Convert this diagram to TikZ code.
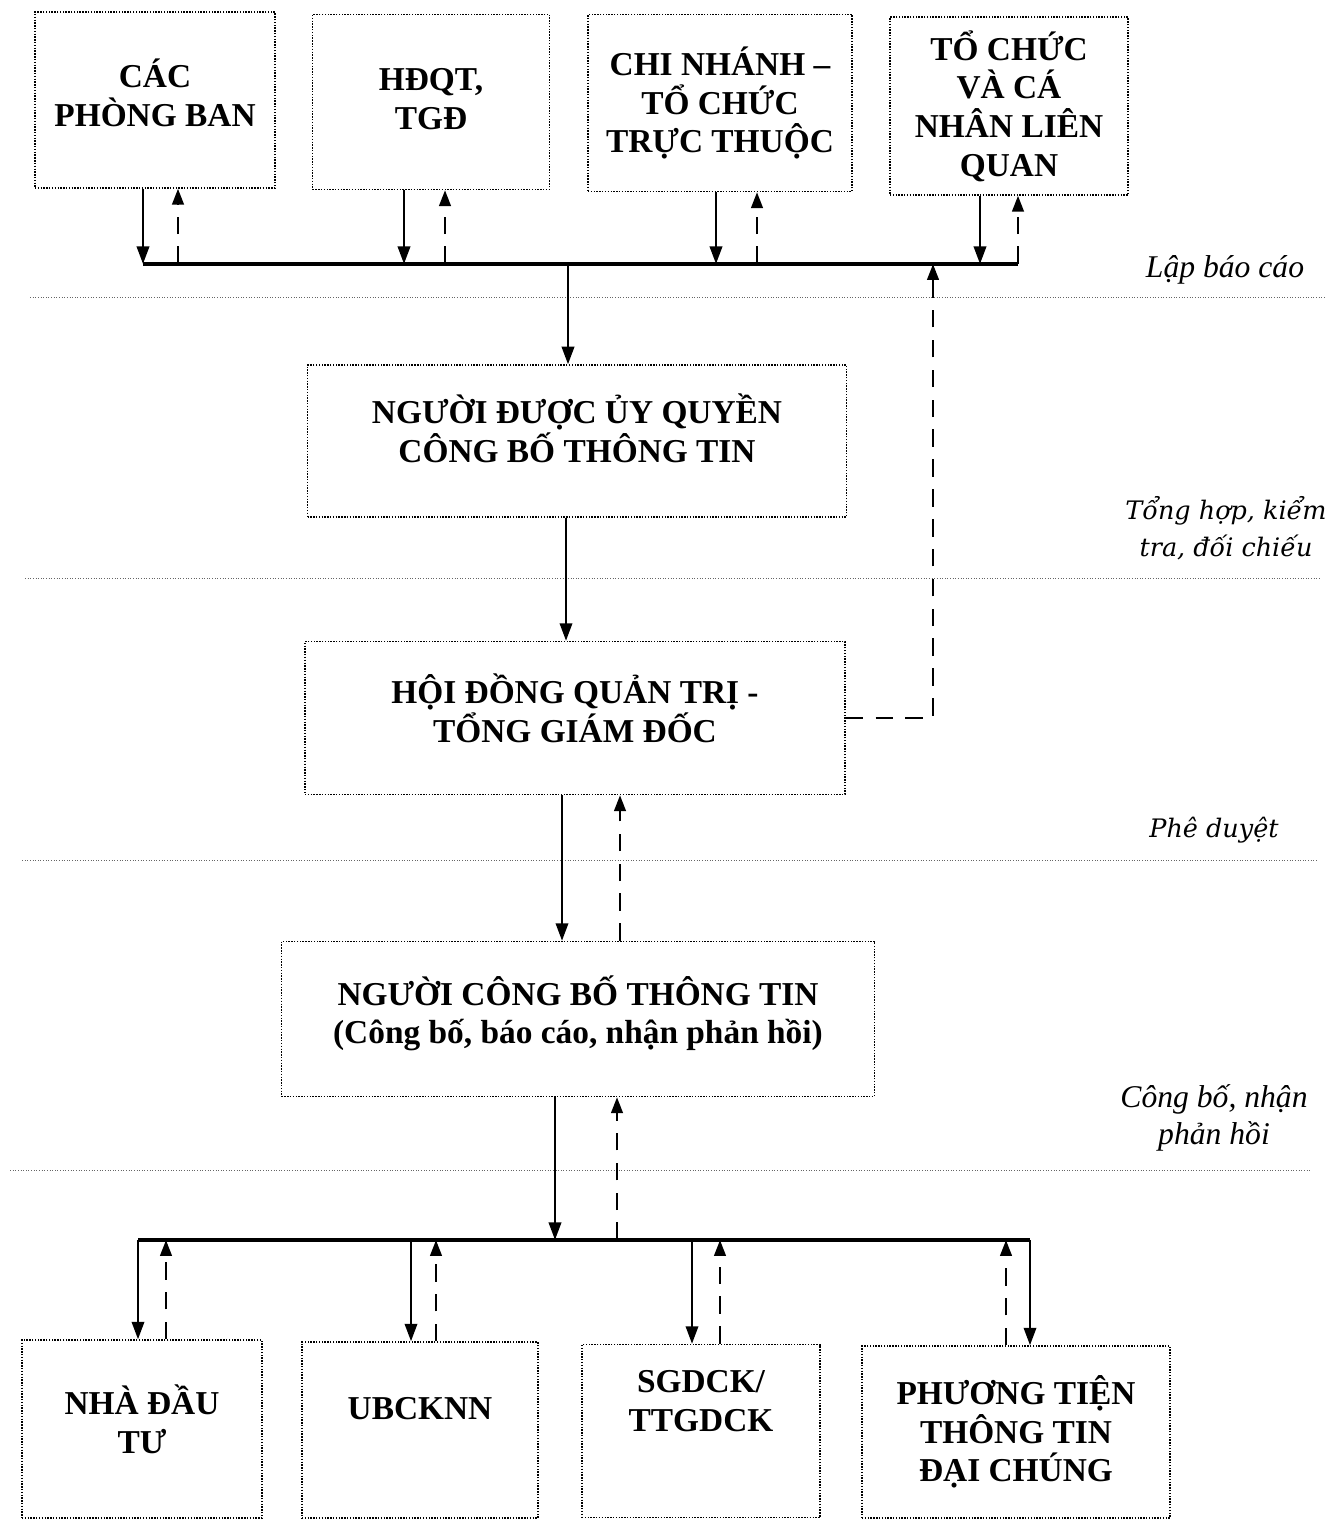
\documentclass[tikz,border=0pt]{standalone}
\usepackage{fontspec}
\setmainfont{Liberation Serif}
\newfontfamily\widefont{DejaVu Serif}
\usetikzlibrary{arrows.meta}

\begin{document}
\begin{tikzpicture}[x=0.02cm, y=-0.02cm,
  box/.style={draw, dash pattern=on 0.8pt off 0.8pt, line width=0.8pt, align=center,
    font=\fontsize{19}{22}\selectfont\bfseries, inner sep=0pt},
  sarrow/.style={-{Triangle[length=10pt,width=7pt]}, line width=1.5pt},
  darrow/.style={-{Triangle[length=9pt,width=6.5pt]}, line width=1.5pt,
    dash pattern=on 10pt off 7pt},
  bus/.style={line width=2.2pt},
  sep/.style={densely dotted, line width=0.5pt, black!60},
  stage/.style={align=center, font=\fontsize{18}{21}\selectfont\itshape},
  stagew/.style={align=center, font=\widefont\fontsize{14.5}{21}\selectfont\itshape}]
  \useasboundingbox (0,0) rectangle (1344,1521);

  % source boxes
  \node[box, minimum width=4.8cm, minimum height=3.52cm, text depth=0.28cm] (pb) at (155,100) {CÁC\\PHÒNG BAN};
  \node[box, minimum width=4.74cm, minimum height=3.5cm, text depth=0.12cm] (hd) at (431,102) {HĐQT,\\TGĐ};
  \node[box, minimum width=5.28cm, minimum height=3.54cm] (cn) at (720,103) {CHI NHÁNH –\\TỔ CHỨC\\TRỰC THUỘC};
  \node[box, minimum width=4.76cm, minimum height=3.56cm] (tc) at (1009,106) {TỔ CHỨC\\VÀ CÁ\\NHÂN LIÊN\\QUAN};

  % middle boxes
  \node[box, minimum width=10.78cm, minimum height=3.04cm, text depth=0.52cm] (uq) at (577,441) {NGƯỜI ĐƯỢC ỦY QUYỀN\\CÔNG BỐ THÔNG TIN};
  \node[box, minimum width=10.8cm, minimum height=3.06cm, text depth=0.4cm] (hdqt) at (575,718) {HỘI ĐỒNG QUẢN TRỊ -\\TỔNG GIÁM ĐỐC};
  \node[box, minimum width=11.86cm, minimum height=3.1cm, text depth=0.37cm] (cb) at (578,1019) {NGƯỜI CÔNG BỐ THÔNG TIN\\(Công bố, báo cáo, nhận phản hồi)};

  % receiver boxes
  \node[box, minimum width=4.8cm, minimum height=3.56cm, text depth=0.4cm] (ndt) at (142,1429) {NHÀ ĐẦU\\TƯ};
  \node[box, minimum width=4.72cm, minimum height=3.52cm, text depth=0.88cm] (ub) at (420,1430) {UBCKNN};
  \node[box, minimum width=4.76cm, minimum height=3.46cm, text depth=1.2cm] (sg) at (701,1431) {SGDCK/\\TTGDCK};
  \node[box, minimum width=6.16cm, minimum height=3.44cm] (pt) at (1016,1432) {PHƯƠNG TIỆN\\THÔNG TIN\\ĐẠI CHÚNG};

  % stage labels
  \node[stage] (lbc) at (1225,270) {Lập báo cáo};
  \node[stagew] (thkt) at (1226,528) {Tổng hợp, kiểm\\tra, đối chiếu};
  \node[stagew] (pd) at (1214,830) {Phê duyệt};
  \node[stage] (cbnh) at (1214,1118) {Công bố, nhận\\phản hồi};

  % stage separators
  \draw[sep] (30,297) -- (1325,297);
  \draw[sep] (25,578) -- (1320,578);
  \draw[sep] (22,860) -- (1318,860);
  \draw[sep] (10,1170) -- (1310,1170);

  % top bus
  \coordinate (tb1) at (143,264);  \coordinate (tb1u) at (178,264);
  \coordinate (tb2) at (404,264);  \coordinate (tb2u) at (445,264);
  \coordinate (tb3) at (716,264);  \coordinate (tb3u) at (757,264);
  \coordinate (tb4) at (980,264);  \coordinate (tb4u) at (1018,264);
  \coordinate (tbm) at (568,264);  \coordinate (tbr) at (933,264);
  \draw[bus] (tb1) -- (tb4u);
  \draw[sarrow] (pb.south -| tb1) -- (tb1);
  \draw[darrow] (tb1u) -- (pb.south -| tb1u);
  \draw[sarrow] (hd.south -| tb2) -- (tb2);
  \draw[darrow] (tb2u) -- (hd.south -| tb2u);
  \draw[sarrow] (cn.south -| tb3) -- (tb3);
  \draw[darrow] (tb3u) -- (cn.south -| tb3u);
  \draw[sarrow] (tc.south -| tb4) -- (tb4);
  \draw[darrow] (tb4u) -- (tc.south -| tb4u);

  % main flow
  \coordinate (k1) at (566,0);
  \coordinate (k2) at (562,0);  \coordinate (k2u) at (620,0);
  \draw[sarrow] (tbm) -- (uq.north -| tbm);
  \draw[sarrow] (uq.south -| k1) -- (hdqt.north -| k1);
  \draw[darrow] (hdqt.east) -| (tbr);
  \draw[sarrow] (hdqt.south -| k2) -- (cb.north -| k2);
  \draw[darrow] (cb.north -| k2u) -- (hdqt.south -| k2u);

  % bottom bus
  \coordinate (bb1) at (138,1240);  \coordinate (bb1u) at (166,1240);
  \coordinate (bb2) at (411,1240);  \coordinate (bb2u) at (436,1240);
  \coordinate (bb3) at (692,1240);  \coordinate (bb3u) at (720,1240);
  \coordinate (bb4u) at (1006,1240); \coordinate (bb4) at (1030,1240);
  \coordinate (bbm) at (555,1240);  \coordinate (bbmu) at (617,1240);
  \draw[sarrow] (cb.south -| bbm) -- (bbm);
  \draw[darrow] (bbmu) -- (cb.south -| bbmu);
  \draw[bus] (bb1) -- (bb4);
  \draw[sarrow] (bb1) -- (ndt.north -| bb1);
  \draw[darrow] (ndt.north -| bb1u) -- (bb1u);
  \draw[sarrow] (bb2) -- (ub.north -| bb2);
  \draw[darrow] (ub.north -| bb2u) -- (bb2u);
  \draw[sarrow] (bb3) -- (sg.north -| bb3);
  \draw[darrow] (sg.north -| bb3u) -- (bb3u);
  \draw[darrow] (pt.north -| bb4u) -- (bb4u);
  \draw[sarrow] (bb4) -- (pt.north -| bb4);
\end{tikzpicture}
\end{document}
